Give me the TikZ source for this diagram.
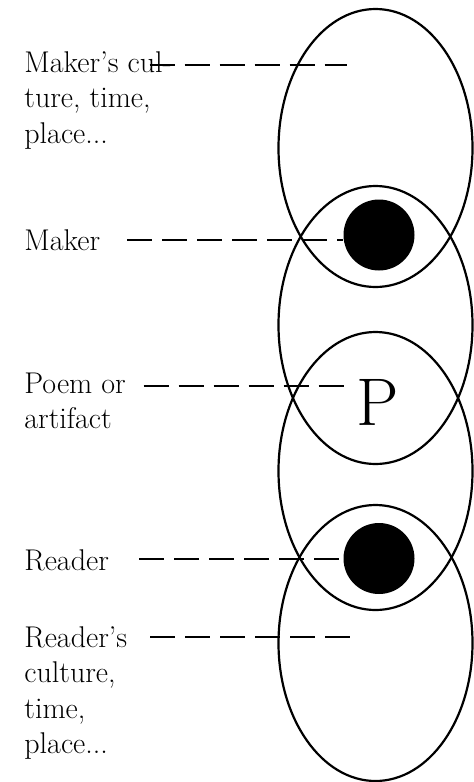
\documentclass[tikz,border=0pt]{standalone}
\usepackage{tikz}
\usetikzlibrary{positioning}

\tikzset{
  rim/.style={line width=1.1pt},
  leader/.style={line width=0.9pt, dash pattern=on 12.5pt off 5pt},
  eyeball/.style={circle, fill=black, minimum size=35.5pt, inner sep=0pt},
  sidetext/.style={anchor=base west, align=left, inner sep=0pt,
    font=\fontsize{15}{17.75}\selectfont},
}

\begin{document}
\begin{tikzpicture}[x=0.5pt, y=-0.5pt]
    \useasboundingbox (0,0) rectangle (474,782);

    % the four worlds
    \draw[rim] (375.5,148) ellipse [x radius=97, y radius=139];
    \draw[rim] (375.5,325) ellipse [x radius=97, y radius=139];
    \draw[rim] (375.5,471) ellipse [x radius=97, y radius=139];
    \draw[rim] (375.5,643) ellipse [x radius=97, y radius=138];

    % eyes and poem
    \node[eyeball] (makereye) at (379,235) {};
    \node[eyeball] (readereye) at (379,558.5) {};
    \node[anchor=base, inner sep=3.5pt, font=\fontsize{33.7}{40}\selectfont] (poemletter) at (378,425) {P};

    % texts on the left (anchored at the last line)
    \node[sidetext] (culture) at (24,143) {Maker’s cul-\\ture, time,\\place...};
    \node[sidetext] (maker) at (24,250) {Maker};
    \node[sidetext] (poem) at (24,428.5) {Poem or\\artifact};
    \node[sidetext] (reader) at (24,570) {Reader};
    \node[sidetext] (readerculture) at (24,753.5) {Reader’s\\culture,\\time,\\place...};

    % dashed leaders
    \coordinate[right=-11.2pt of culture.base east, yshift=39pt] (culturelead);
    \coordinate (culturetip) at (347,65);
    \draw[leader] (culturelead) -- (culturelead -| culturetip);

    \coordinate[right=13.25pt of maker.base east, yshift=5pt] (makerlead);
    \draw[leader] (makerlead) -- (makerlead -| makereye.west);

    \coordinate[right=8.65pt of poem.base east, yshift=21.25pt] (poemlead);
    \draw[leader] (poemlead) -- (poemlead -| poemletter.west);

    \coordinate[right=15pt of reader.base east, yshift=5.5pt] (readerlead);
    \draw[leader] (readerlead) -- (readerlead -| readereye.west);

    \coordinate[right=11.35pt of readerculture.base east, yshift=58.25pt] (readerculturelead);
    \coordinate (readerculturetip) at (353,637);
    \draw[leader] (readerculturelead) -- (readerculturelead -| readerculturetip);
\end{tikzpicture}
\end{document}
